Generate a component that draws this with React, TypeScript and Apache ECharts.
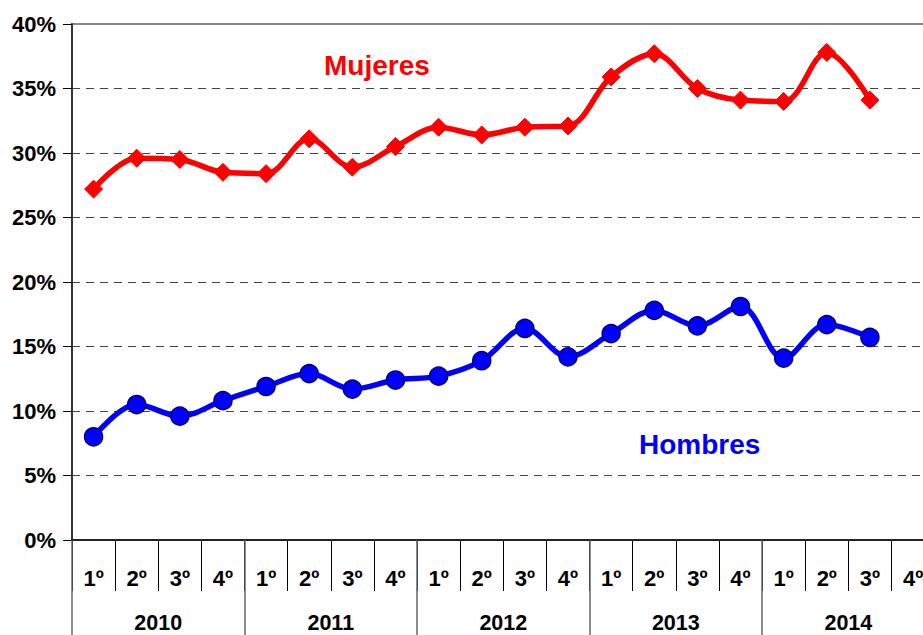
import React, { useEffect, useRef } from "react";
import * as echarts from "echarts";

const years = ["2010", "2011", "2012", "2013", "2014"];
const quarters = ["1º", "2º", "3º", "4º"];
const categories = years.flatMap((y) => quarters.map((q) => `${y}-${q}`));

const mujeres = [27.2, 29.6, 29.5, 28.5, 28.4, 31.1, 28.9, 30.5, 32.0, 31.4, 32.0, 32.1, 35.9, 37.7, 35.0, 34.1, 34.0, 37.8, 34.1];
const hombres = [8.0, 10.5, 9.6, 10.8, 11.9, 12.9, 11.7, 12.4, 12.7, 13.9, 16.4, 14.2, 16.0, 17.8, 16.6, 18.1, 14.1, 16.7, 15.7];

const FONT = "'Liberation Sans', Arial, sans-serif";

export default function App() {
  const ref = useRef<HTMLDivElement>(null);
  useEffect(() => {
    if (!ref.current) return;
    document.body.style.overflow = "hidden";
    const chart = echarts.init(ref.current, null, { renderer: "svg" });
    chart.setOption({
      animation: false,
      backgroundColor: "#ffffff",
      grid: {
        left: 72,
        top: 24,
        width: 862.6,
        height: 516,
        show: true,
        borderColor: "#888888",
        borderWidth: 2,
        backgroundColor: "transparent",
      },
      xAxis: [
        {
          type: "category",
          data: categories,
          position: "bottom",
          offset: 0,
          boundaryGap: true,
          axisLine: { show: true, lineStyle: { color: "#000", width: 1.5 } },
          axisTick: { show: true, interval: 0, length: 51, lineStyle: { color: "#000", width: 1 } },
          axisLabel: {
            interval: 0,
            margin: 27,
            fontFamily: FONT,
            fontWeight: "bold",
            fontSize: 22,
            color: "#000",
            formatter: (v: string) => v.split("-")[1],
          },
          splitLine: { show: false },
        },
        {
          type: "category",
          data: years,
          position: "bottom",
          offset: 0,
          boundaryGap: true,
          axisLine: { show: false },
          axisTick: { show: true, interval: 0, length: 96, lineStyle: { color: "#666", width: 1.5 } },
          axisLabel: {
            interval: 0,
            margin: 72,
            fontFamily: FONT,
            fontWeight: "bold",
            fontSize: 21.5,
            color: "#000",
          },
          splitLine: { show: false },
        },
      ],
      yAxis: {
        type: "value",
        min: 0,
        max: 40,
        interval: 5,
        axisLine: { show: true, lineStyle: { color: "#333", width: 2 } },
        axisTick: { show: true, length: 9, lineStyle: { color: "#000", width: 1 } },
        axisLabel: {
          margin: 16,
          fontFamily: FONT,
          fontWeight: "bold",
          fontSize: 22,
          color: "#000",
          formatter: "{value}%",
        },
        splitLine: {
          show: true,
          lineStyle: {
            color: ["rgba(0,0,0,0)", "#444", "#444", "#444", "#444", "#444", "#444", "#444", "rgba(0,0,0,0)"],
            type: [8, 6],
            width: 1,
          },
        },
      },
      series: [
        {
          name: "Mujeres",
          type: "line",
          xAxisIndex: 0,
          data: mujeres,
          smooth: 0.35,
          symbol: "diamond",
          symbolSize: 18,
          lineStyle: { color: "#ff0000", width: 5.5 },
          itemStyle: { color: "#ff0000", borderColor: "#ff0000", borderWidth: 1 },
          z: 3,
        },
        {
          name: "Hombres",
          type: "line",
          xAxisIndex: 0,
          data: hombres,
          smooth: 0.35,
          symbol: "circle",
          symbolSize: 18,
          lineStyle: { color: "#0000ff", width: 5.5 },
          itemStyle: { color: "#0000ff", borderColor: "#000080", borderWidth: 1.5 },
          z: 3,
        },
      ],
      graphic: [
        {
          type: "text",
          left: 324,
          top: 51,
          style: { text: "Mujeres", fill: "#ff0000", font: `bold 28px ${FONT}` },
        },
        {
          type: "text",
          left: 639,
          top: 430,
          style: { text: "Hombres", fill: "#0000ff", font: `bold 28px ${FONT}` },
        },
      ],
    });
    return () => chart.dispose();
  }, []);
  return (
    <div
      ref={ref}
      style={{ position: "fixed", left: 0, top: 0, width: 950, height: 635 }}
    />
  );
}
